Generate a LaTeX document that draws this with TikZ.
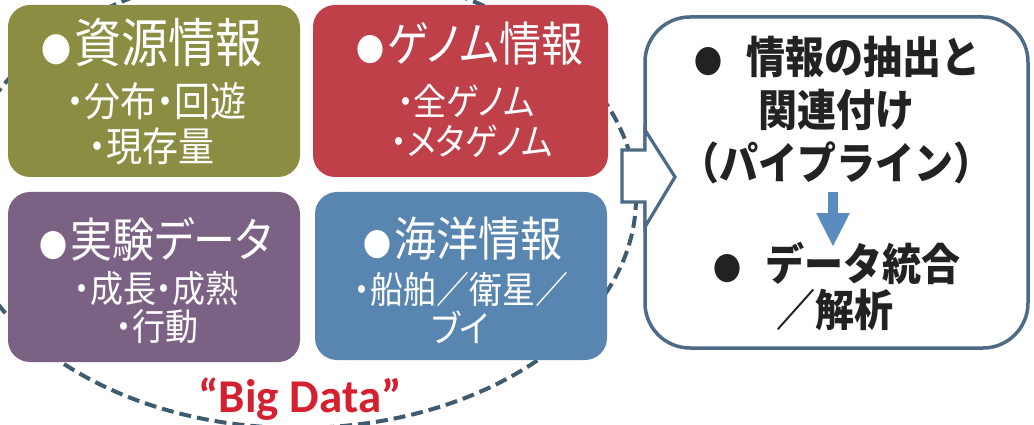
\documentclass[tikz,border=0pt]{standalone}
\usepackage{fontspec}
\setmainfont{Noto Sans CJK JP}
\newfontfamily\jpp{Noto Sans CJK JP}[RawFeature=+palt]
\newfontfamily\latinbold{Carlito}
\usetikzlibrary{arrows.meta}
\definecolor{cGreen}{HTML}{8B8D43}
\definecolor{cRed}{HTML}{BF4048}
\definecolor{cPurple}{HTML}{7B6183}
\definecolor{cBlue}{HTML}{5985B1}
\definecolor{cDash}{HTML}{3F5B6F}
\definecolor{cFrame}{HTML}{4D6B87}
\definecolor{cArrow}{HTML}{5B8CC0}
\definecolor{cBig}{HTML}{D4202F}
\definecolor{cInk}{HTML}{222222}
\newcommand\myfs[1]{\fontsize{#1}{#1}\selectfont}
\newcommand\tallt[1]{\scalebox{1}[1.12]{#1}}
\newcommand\dotb[1]{{\myfs{#1}●}}
\tikzset{
  panel/.style={rounded corners=22pt, inner sep=0pt},
  wtext/.style={text=white, inner sep=0pt},
  btext/.style={text=cInk, inner sep=0pt},
  bigdashed/.style={draw=cDash, line width=4pt, dash pattern=on 12pt off 6pt},
  frame/.style={draw=cFrame, line width=3.5pt, fill=white},
}
\begin{document}
\begin{tikzpicture}[x=1pt,y=-1pt]
\useasboundingbox (0,0) rectangle (1034,425);
\fill[white] (0,0) rectangle (1034,425);
% dashed "Big Data" ellipse
\begin{scope}
\clip (0,0) rectangle (1034,425);
\draw[bigdashed] (298,198) ellipse [x radius=338, y radius=230];
\end{scope}
% four coloured panels
\node[panel, fill=cGreen, minimum width=292pt, minimum height=172pt] (green) at (154,91) {};
\node[panel, fill=cRed, minimum width=295pt, minimum height=172pt] (red) at (460.5,91) {};
\node[panel, fill=cPurple, minimum width=292pt, minimum height=170pt] (purple) at (154,277) {};
\node[panel, fill=cBlue, minimum width=292pt, minimum height=168pt] (blue) at (461,276) {};
% green text
\node[wtext, font=\jpp\myfs{47}] (g1) at (152,43) {\tallt{\dotb{30}\hspace{4pt}資源情報}};
\node[wtext, font=\jpp\myfs{36}] (g2) at (156,101) {\tallt{・分布・回遊}};
\node[wtext, font=\jpp\myfs{36}] (g3) at (151,146) {\tallt{・現存量}};
% red text
\node[wtext, font=\jpp\myfs{42}] (r1) at (470,44) {\tallt{\dotb{28}\hspace{3pt}ゲノム情報}};
\node[wtext, font=\jpp\myfs{33}] (r2) at (466,101) {\tallt{・全ゲノム}};
\node[wtext, font=\jpp\myfs{33}] (r3) at (472,141) {\tallt{・メタゲノム}};
% purple text
\node[wtext, font=\jpp\myfs{42}] (p1) at (156,239) {\tallt{\dotb{28}\hspace{3pt}実験データ}};
\node[wtext, font=\jpp\myfs{33}] (p2) at (156,289) {\tallt{・成長・成熟}};
\node[wtext, font=\jpp\myfs{33}] (p3) at (157,327) {\tallt{・行動}};
% blue text
\node[wtext, font=\jpp\myfs{42}] (b1) at (463,239) {\tallt{\dotb{28}\hspace{3pt}海洋情報}};
\node[wtext, font=\jpp\myfs{33}] (b2) at (461,289) {\tallt{・船舶／衛星／}};
\node[wtext, font=\jpp\myfs{33}] (b3) at (460,327) {\tallt{ブイ}};
% Big Data label
\node[text=cBig, inner sep=0pt, font=\latinbold\bfseries\myfs{47}] (big) at (300,399) {“Big Data”};
% right frame
\draw[frame, rounded corners=45pt] (645,17) rectangle (1028,348);
% block arrow
\draw[frame, line width=3.2pt, line join=miter] (622,150) -- (645,150) -- (645,130) -- (675,177) -- (645,227) -- (645,202) -- (622,202) -- cycle;
% right text
\node[btext, font=\bfseries\myfs{39}] (t1) at (837,57) {\tallt{\dotb{28}\hspace{24pt}情報の抽出と}};
\node[btext, font=\bfseries\myfs{39}] (t2) at (836,110) {\tallt{関連付け}};
\node[btext, font=\bfseries\myfs{39}] (t3) at (836,163) {\tallt{（パイプライン）}};
\node[btext, font=\bfseries\myfs{39}] (t4) at (837,263) {\tallt{\dotb{28}\hspace{24pt}データ統合}};
\node[btext, font=\bfseries\myfs{39}] (t5) at (835,310) {\tallt{／解析}};
\coordinate (aStart) at (833,192);
\coordinate (aEnd) at (833,247);
\draw[draw=cArrow, line width=10pt, -{Triangle[width=31pt,length=34pt]}] (aStart) -- (aEnd);
\end{tikzpicture}
\end{document}
